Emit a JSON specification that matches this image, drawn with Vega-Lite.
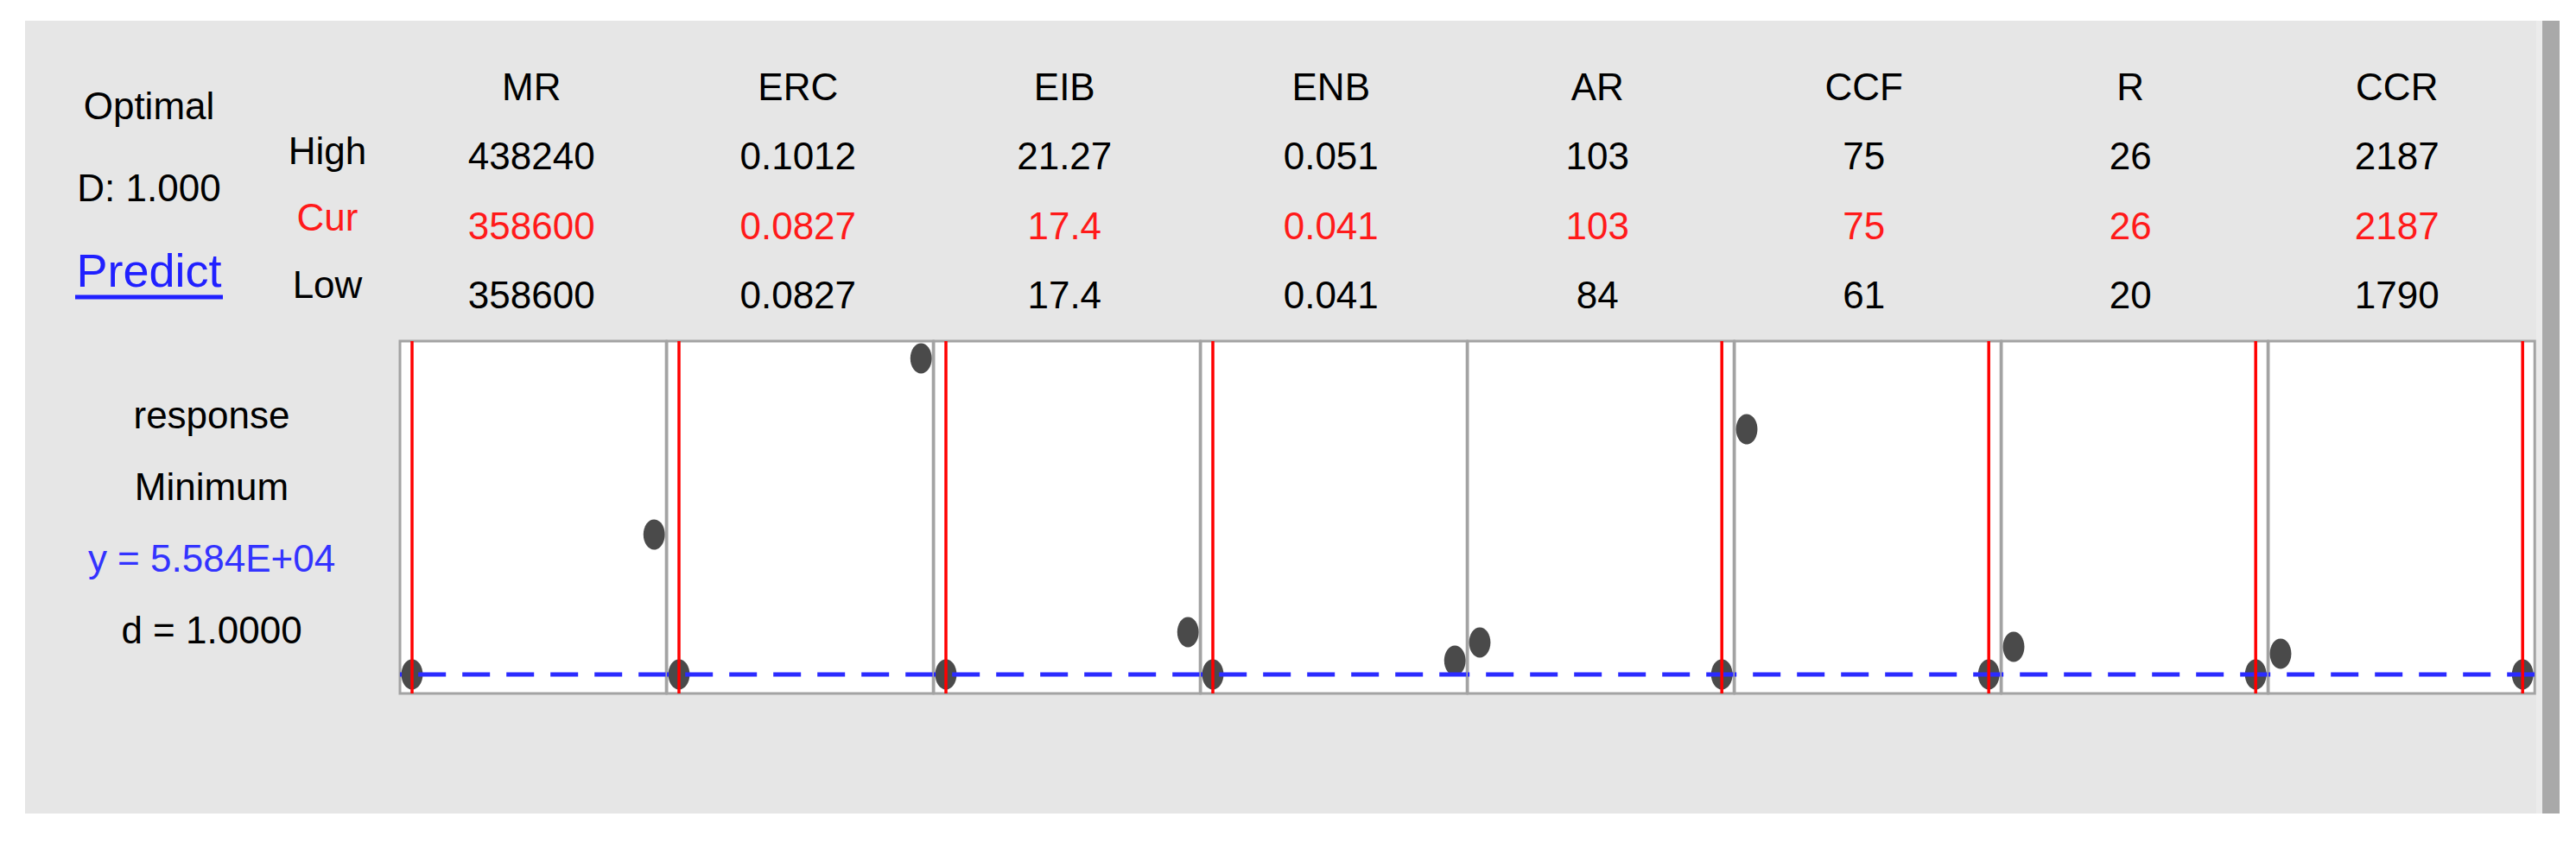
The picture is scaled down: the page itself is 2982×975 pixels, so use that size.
{
  "$schema": "https://vega.github.io/schema/vega-lite/v6.json",
  "background": "#e6e6e6",
  "padding": 0,
  "spacing": 0,
  "resolve": {"scale": {"x": "independent", "y": "independent", "color": "independent"}},
  "config": {
    "view": {"fill": "white", "stroke": "#a3a3a3", "strokeWidth": 3},
    "text": {"font": "Liberation Sans", "fontSize": 44},
    "concat": {"spacing": 0},
    "facet": {"spacing": 0}
  },
  "datasets": {
    "factors": [
      {"factor": "MR", "low": 358600, "high": 438240, "cur": 358600, "respLow": 55840, "respHigh": 96340, "respCur": 55840},
      {"factor": "ERC", "low": 0.0827, "high": 0.1012, "cur": 0.0827, "respLow": 55840, "respHigh": 147340, "respCur": 55840},
      {"factor": "EIB", "low": 17.4, "high": 21.27, "cur": 17.4, "respLow": 55840, "respHigh": 68090, "respCur": 55840},
      {"factor": "ENB", "low": 0.041, "high": 0.051, "cur": 0.041, "respLow": 55840, "respHigh": 59840, "respCur": 55840},
      {"factor": "AR", "low": 84, "high": 103, "cur": 103, "respLow": 65090, "respHigh": 55840, "respCur": 55840},
      {"factor": "CCF", "low": 61, "high": 75, "cur": 75, "respLow": 126840, "respHigh": 55840, "respCur": 55840},
      {"factor": "R", "low": 20, "high": 26, "cur": 26, "respLow": 63840, "respHigh": 55840, "respCur": 55840},
      {"factor": "CCR", "low": 1790, "high": 2187, "cur": 2187, "respLow": 61840, "respHigh": 55840, "respCur": 55840}
    ],
    "header": [
      {"factor": "MR", "row": "Name", "label": "MR"},
      {"factor": "MR", "row": "High", "label": "438240"},
      {"factor": "MR", "row": "Cur", "label": "358600"},
      {"factor": "MR", "row": "Low", "label": "358600"},
      {"factor": "ERC", "row": "Name", "label": "ERC"},
      {"factor": "ERC", "row": "High", "label": "0.1012"},
      {"factor": "ERC", "row": "Cur", "label": "0.0827"},
      {"factor": "ERC", "row": "Low", "label": "0.0827"},
      {"factor": "EIB", "row": "Name", "label": "EIB"},
      {"factor": "EIB", "row": "High", "label": "21.27"},
      {"factor": "EIB", "row": "Cur", "label": "17.4"},
      {"factor": "EIB", "row": "Low", "label": "17.4"},
      {"factor": "ENB", "row": "Name", "label": "ENB"},
      {"factor": "ENB", "row": "High", "label": "0.051"},
      {"factor": "ENB", "row": "Cur", "label": "0.041"},
      {"factor": "ENB", "row": "Low", "label": "0.041"},
      {"factor": "AR", "row": "Name", "label": "AR"},
      {"factor": "AR", "row": "High", "label": "103"},
      {"factor": "AR", "row": "Cur", "label": "103"},
      {"factor": "AR", "row": "Low", "label": "84"},
      {"factor": "CCF", "row": "Name", "label": "CCF"},
      {"factor": "CCF", "row": "High", "label": "75"},
      {"factor": "CCF", "row": "Cur", "label": "75"},
      {"factor": "CCF", "row": "Low", "label": "61"},
      {"factor": "R", "row": "Name", "label": "R"},
      {"factor": "R", "row": "High", "label": "26"},
      {"factor": "R", "row": "Cur", "label": "26"},
      {"factor": "R", "row": "Low", "label": "20"},
      {"factor": "CCR", "row": "Name", "label": "CCR"},
      {"factor": "CCR", "row": "High", "label": "2187"},
      {"factor": "CCR", "row": "Cur", "label": "2187"},
      {"factor": "CCR", "row": "Low", "label": "1790"}
    ],
    "leftTop": [
      {"line": "Optimal"},
      {"line": "D: 1.000"},
      {"line": "Predict"}
    ],
    "rowLabels": [
      {"row": "High"},
      {"row": "Cur"},
      {"row": "Low"}
    ],
    "leftBottom": [
      {"line": "response"},
      {"line": "Minimum"},
      {"line": "y = 5.584E+04"},
      {"line": "d = 1.0000"}
    ]
  },
  "vconcat": [
    {
      "width": 2982, "height": 24,
      "view": {"fill": "white", "stroke": null, "strokeWidth": 0},
      "data": {"values": []},
      "mark": {"type": "text"},
      "encoding": {"text": {"value": ""}}
    },
    {
      "spacing": 0,
      "resolve": {"scale": {"x": "independent", "y": "independent", "color": "independent"}},
      "hconcat": [
        {
          "width": 29, "height": 918,
          "view": {"fill": "white", "stroke": null, "strokeWidth": 0},
          "data": {"values": []},
          "mark": {"type": "text"},
          "encoding": {"text": {"value": ""}}
        },
        {
          "spacing": 0,
          "resolve": {"scale": {"x": "independent", "y": "independent", "color": "independent"}},
          "vconcat": [
            {
              "spacing": 0,
              "bounds": "flush",
              "resolve": {"scale": {"x": "independent", "y": "independent", "color": "independent"}},
              "hconcat": [
                {
                  "width": 58, "height": 369,
                  "view": {"fill": "#e6e6e6", "stroke": null, "strokeWidth": 0},
                  "data": {"values": []},
                  "mark": {"type": "text"},
                  "encoding": {"text": {"value": ""}}
                },
                {
                  "width": 171, "height": 369,
                  "view": {"fill": "#e6e6e6", "stroke": null, "strokeWidth": 0},
                  "data": {"name": "leftTop"},
                  "layer": [
                    {
                      "transform": [{"filter": "datum.line !== 'Predict'"}],
                      "mark": {"type": "text", "baseline": "middle", "align": "center", "color": "black"},
                      "encoding": {
                        "y": {"field": "line", "type": "nominal", "sort": ["Optimal", "D: 1.000", "Predict"], "scale": {"type": "point", "domain": ["Optimal", "D: 1.000", "Predict"], "padding": 0.932, "align": 0.567}, "axis": null},
                        "text": {"field": "line"}
                      }
                    },
                    {
                      "transform": [{"filter": "datum.line === 'Predict'"}],
                      "mark": {"type": "text", "baseline": "middle", "align": "center", "color": "#2020ff", "fontSize": 54},
                      "encoding": {
                        "y": {"field": "line", "type": "nominal", "axis": null},
                        "text": {"field": "line"}
                      }
                    },
                    {
                      "transform": [{"filter": "datum.line === 'Predict'"}],
                      "mark": {"type": "rule", "color": "#2020ff", "strokeWidth": 5, "yOffset": 28},
                      "encoding": {
                        "y": {"field": "line", "type": "nominal", "axis": null}
                      }
                    }
                  ]
                },
                {
                  "width": 39, "height": 369,
                  "view": {"fill": "#e6e6e6", "stroke": null, "strokeWidth": 0},
                  "data": {"values": []},
                  "mark": {"type": "text"},
                  "encoding": {"text": {"value": ""}}
                },
                {
                  "width": 164, "height": 310,
                  "view": {"fill": "#e6e6e6", "stroke": null, "strokeWidth": 0},
                  "data": {"name": "rowLabels"},
                  "mark": {"type": "text", "baseline": "middle", "align": "center"},
                  "encoding": {
                    "y": {"field": "row", "type": "nominal", "sort": ["High", "Cur", "Low"], "scale": {"type": "point", "padding": 1, "align": 0.987}, "axis": null},
                    "text": {"field": "row"},
                    "color": {"field": "row", "type": "nominal", "scale": {"domain": ["High", "Cur", "Low"], "range": ["black", "#ff1a1a", "black"]}, "legend": null}
                  }
                },
                {
                  "width": 2468, "height": 369,
                  "view": {"fill": "#e6e6e6", "stroke": null, "strokeWidth": 0},
                  "data": {"name": "header"},
                  "mark": {"type": "text", "baseline": "middle", "align": "center"},
                  "encoding": {
                    "x": {"field": "factor", "type": "nominal", "sort": ["MR", "ERC", "EIB", "ENB", "AR", "CCF", "R", "CCR"], "scale": {"type": "band", "paddingInner": 0, "paddingOuter": 0}, "axis": null},
                    "y": {"field": "row", "type": "nominal", "sort": ["Name", "High", "Cur", "Low"], "scale": {"type": "point", "padding": 0.792, "align": 0.616}, "axis": null},
                    "text": {"field": "label"},
                    "color": {"field": "row", "type": "nominal", "scale": {"domain": ["Name", "High", "Cur", "Low"], "range": ["black", "black", "#ff1a1a", "black"]}, "legend": null}
                  }
                }
              ]
            },
            {
              "spacing": 0,
              "resolve": {"scale": {"x": "independent", "y": "independent", "color": "independent"}},
              "hconcat": [
                {
                  "width": 432, "height": 408,
                  "view": {"fill": "#e6e6e6", "stroke": null, "strokeWidth": 0},
                  "data": {"name": "leftBottom"},
                  "mark": {"type": "text", "baseline": "middle", "align": "center"},
                  "encoding": {
                    "y": {"field": "line", "type": "nominal", "sort": ["response", "Minimum", "y = 5.584E+04", "d = 1.0000"], "scale": {"type": "point", "padding": 0.958, "align": 0.553}, "axis": null},
                    "text": {"field": "line"},
                    "color": {"field": "line", "type": "nominal", "scale": {"domain": ["response", "Minimum", "y = 5.584E+04", "d = 1.0000"], "range": ["black", "black", "#3333ff", "black"]}, "legend": null}
                  }
                },
                {
                  "data": {"name": "factors"},
                  "spacing": 0,
                  "bounds": "flush",
                  "facet": {"column": {"field": "factor", "type": "nominal", "sort": ["MR", "ERC", "EIB", "ENB", "AR", "CCF", "R", "CCR"], "header": null}},
                  "resolve": {"scale": {"x": "independent"}},
                  "spec": {
                    "width": 308.2,
                    "height": 408,
                    "layer": [
                      {
                        "mark": {"type": "point", "shape": "M-0.71,0A0.71,1 0 1,0 0.71,0A0.71,1 0 1,0 -0.71,0Z", "size": 1225, "filled": true, "color": "#4a4a4a", "opacity": 1, "clip": true},
                        "encoding": {
                          "x": {"field": "low", "type": "quantitative", "scale": {"zero": false, "nice": false, "padding": 14}, "axis": null},
                          "y": {"field": "respLow", "type": "quantitative", "scale": {"domain": [50340, 152340], "zero": false, "nice": false}, "axis": null}
                        }
                      },
                      {
                        "mark": {"type": "point", "shape": "M-0.71,0A0.71,1 0 1,0 0.71,0A0.71,1 0 1,0 -0.71,0Z", "size": 1225, "filled": true, "color": "#4a4a4a", "opacity": 1, "clip": true},
                        "encoding": {
                          "x": {"field": "high", "type": "quantitative", "axis": null},
                          "y": {"field": "respHigh", "type": "quantitative", "axis": null}
                        }
                      },
                      {
                        "mark": {"type": "rule", "color": "#2b2bff", "strokeWidth": 5, "strokeDash": [32, 19], "clip": true},
                        "encoding": {
                          "y": {"field": "respCur", "type": "quantitative", "axis": null}
                        }
                      },
                      {
                        "mark": {"type": "rule", "color": "#ff0000", "strokeWidth": 3.5, "clip": true},
                        "encoding": {
                          "x": {"field": "cur", "type": "quantitative", "axis": null}
                        }
                      }
                    ]
                  }
                }
              ]
            },
            {
              "width": 2900, "height": 134,
              "view": {"fill": "#e6e6e6", "stroke": null, "strokeWidth": 0},
              "data": {"values": []},
              "mark": {"type": "text"},
              "encoding": {"text": {"value": ""}}
            }
          ]
        },
        {
          "width": 7, "height": 918,
          "view": {"fill": "#ebebeb", "stroke": null, "strokeWidth": 0},
          "data": {"values": []},
          "mark": {"type": "text"},
          "encoding": {"text": {"value": ""}}
        },
        {
          "width": 20, "height": 918,
          "view": {"fill": "#a9a9a9", "stroke": null, "strokeWidth": 0},
          "data": {"values": []},
          "mark": {"type": "text"},
          "encoding": {"text": {"value": ""}}
        },
        {
          "width": 26, "height": 918,
          "view": {"fill": "white", "stroke": null, "strokeWidth": 0},
          "data": {"values": []},
          "mark": {"type": "text"},
          "encoding": {"text": {"value": ""}}
        }
      ]
    },
    {
      "width": 2982, "height": 40,
      "view": {"fill": "white", "stroke": null, "strokeWidth": 0},
      "data": {"values": []},
      "mark": {"type": "text"},
      "encoding": {"text": {"value": ""}}
    }
  ]
}
